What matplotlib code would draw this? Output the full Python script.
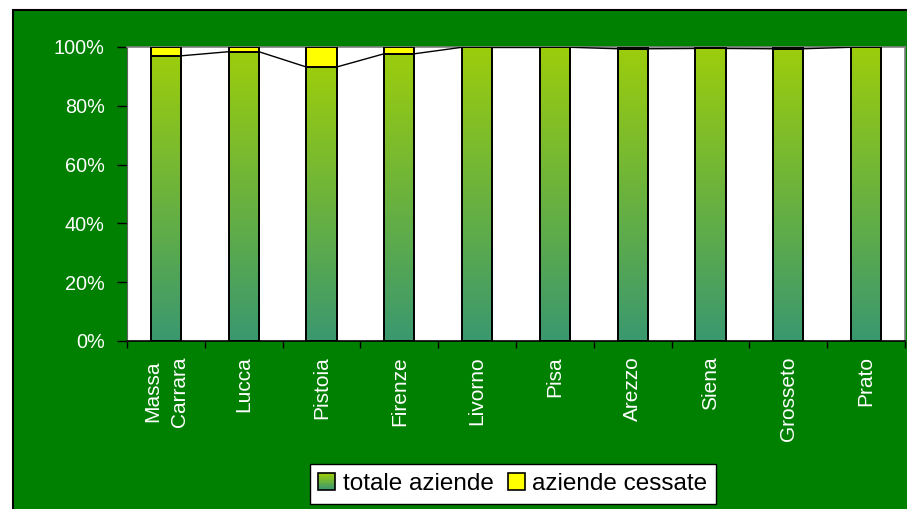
import numpy as np
import matplotlib
matplotlib.use("Agg")
import matplotlib.pyplot as plt
from matplotlib.patches import Rectangle
from matplotlib.colors import LinearSegmentedColormap
from matplotlib.legend_handler import HandlerBase

categories = ["Massa\nCarrara", "Lucca", "Pistoia", "Firenze", "Livorno",
              "Pisa", "Arezzo", "Siena", "Grosseto", "Prato"]
totale = [97.0, 98.4, 93.2, 97.7, 99.9, 99.9, 99.4, 99.5, 99.4, 99.9]
cessate = [100 - v for v in totale]
yticks = [0, 20, 40, 60, 80, 100]
ytick_labels = ["0%", "20%", "40%", "60%", "80%", "100%"]
series_names = ["totale aziende", "aziende cessate"]

GREEN_BG = "#008000"
YELLOW = "#ffff00"
grad_bottom = "#3a986f"
grad_top = "#9ccd0c"
cmap = LinearSegmentedColormap.from_list("g", [grad_bottom, grad_top])

plt.rcParams['font.family'] = ['Liberation Sans', 'DejaVu Sans']

fig = plt.figure(figsize=(9.07, 5.09), dpi=100)
fig.patch.set_facecolor("white")
W, H = 907, 509
bg = Rectangle((13 / W, -0.1), 1.2, 1.1 - 10 / H, transform=fig.transFigure,
               facecolor=GREEN_BG, edgecolor="black", linewidth=1.5, zorder=-10)
fig.patches.append(bg)

ax = fig.add_axes([127 / W, (509 - 341) / H, (905 - 127) / W, (341 - 47) / H])
ax.set_facecolor("white")

x = np.arange(len(categories))
w = 0.39
grad = np.linspace(0, 1, 256).reshape(-1, 1)
for i, (t, c) in enumerate(zip(totale, cessate)):
    bar = Rectangle((x[i] - w / 2, 0), w, t, facecolor="none",
                    edgecolor="black", linewidth=1.4, zorder=3)
    ax.add_patch(bar)
    im = ax.imshow(grad, extent=[x[i] - w / 2, x[i] + w / 2, 0, t],
                   origin="lower", aspect="auto", cmap=cmap, zorder=2)
    im.set_clip_path(bar)
    if c > 0.05:
        ax.add_patch(Rectangle((x[i] - w / 2, t), w, c, facecolor=YELLOW,
                               edgecolor="black", linewidth=1.4, zorder=3))

# series lines
for i in range(len(categories) - 1):
    ax.plot([x[i] + w / 2, x[i + 1] - w / 2], [totale[i], totale[i + 1]],
            color="black", linewidth=1.0, zorder=4)

ax.set_xlim(-0.5, len(categories) - 0.5)
ax.set_ylim(0, 100)
ax.set_yticks(yticks)
ax.set_yticklabels(ytick_labels, color="white", fontsize=14.3)
ax.set_xticks(np.arange(len(categories) + 1) - 0.5)
ax.set_xticklabels([])
ax.set_xticks(x, minor=True)
ax.set_xticklabels(categories, minor=True, rotation=90, color="white",
                   fontsize=15, va="top", ha="center", linespacing=1.55)
ax.tick_params(axis="x", which="minor", length=0, pad=11)
ax.tick_params(axis="x", which="major", length=5, width=1, direction="out",
               color="black")
ax.tick_params(axis="y", length=7, width=1, direction="out", color="black",
               pad=9)
for s in ["top", "right"]:
    ax.spines[s].set_color("#808080")
    ax.spines[s].set_linewidth(1.2)
ax.spines["left"].set_color("#606060")
ax.spines["bottom"].set_color("black")
ax.spines["bottom"].set_linewidth(1.2)


class GradHandler(HandlerBase):
    def create_artists(self, legend, orig_handle, xdescent, ydescent, width,
                       height, fontsize, trans):
        size = min(width, height) * 1.0
        x0 = xdescent + (width - size) / 2
        y0 = -ydescent + (height - size) / 2
        arts = []
        n = 12
        for k in range(n):
            arts.append(Rectangle((x0, y0 + size * k / n), size, size / n + 0.3,
                                  facecolor=cmap(k / (n - 1)), edgecolor="none",
                                  transform=trans))
        arts.append(Rectangle((x0, y0), size, size, facecolor="none",
                              edgecolor="black", linewidth=1.2, transform=trans))
        return arts


class SquareHandler(HandlerBase):
    def create_artists(self, legend, orig_handle, xdescent, ydescent, width,
                       height, fontsize, trans):
        size = min(width, height) * 1.0
        x0 = xdescent + (width - size) / 2
        y0 = -ydescent + (height - size) / 2
        return [Rectangle((x0, y0), size, size, facecolor=YELLOW,
                          edgecolor="black", linewidth=1.2, transform=trans)]


h1 = Rectangle((0, 0), 1, 1)
h2 = Rectangle((0, 1), 1, 1)
leg = fig.legend([h1, h2], series_names, loc="center",
                 bbox_to_anchor=(513 / W, 1 - 484 / H), ncol=2, fontsize=17.5,
                 frameon=True, fancybox=False, edgecolor="black",
                 facecolor="white", framealpha=1.0,
                 handler_map={h1: GradHandler(), h2: SquareHandler()},
                 handlelength=0.7, handleheight=0.7, handletextpad=0.3,
                 columnspacing=0.6, borderpad=0.35, borderaxespad=0)
leg.get_frame().set_linewidth(1.0)

fig.savefig("out.png", dpi=100)
